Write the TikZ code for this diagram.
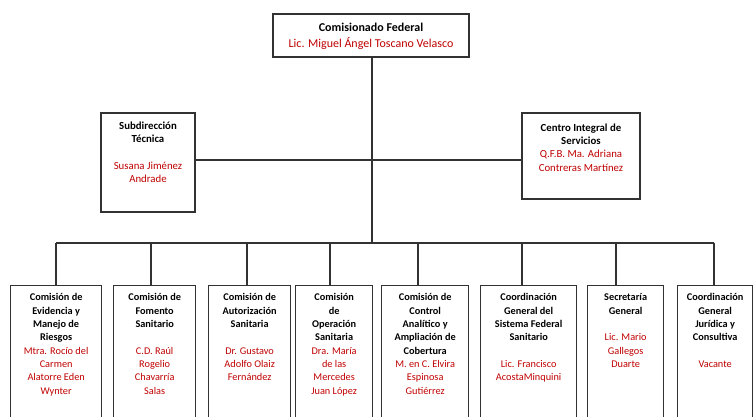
\documentclass[tikz,border=0pt]{standalone}
\usepackage{fontspec}
\setmainfont{Carlito}
\definecolor{namered}{RGB}{192,0,0}
\definecolor{linegray}{RGB}{50,50,50}
\tikzset{
  orgbox/.style={draw=linegray, line width=1.3pt, fill=white, inner sep=0pt},
  boxtext/.style={align=center, inner sep=0pt, anchor=north, font=\fontsize{10.3}{13.3}\selectfont},
  midtext/.style={boxtext, font=\fontsize{10.8}{13.3}\selectfont},
  toptext/.style={boxtext, font=\fontsize{12}{16}\selectfont},
  link/.style={draw=linegray, line width=1.05pt},
}
\newcommand{\nm}[1]{\textcolor{namered}{#1}}
\begin{document}
\begin{tikzpicture}[x=1pt,y=-1pt]
\useasboundingbox (0,0) rectangle (754,416);
\clip (0,0) rectangle (754,416);
% top
\node[orgbox, minimum width=196pt, minimum height=43pt] (top) at (371,35.5) {};
\node[toptext] (topT) at (371,22.5) {\textbf{Comisionado Federal}\\\nm{Lic. Miguel Ángel Toscano Velasco}};
% second level
\node[orgbox, minimum width=94pt, minimum height=99pt] (sub) at (148,162.5) {};
\node[midtext] (subT) at (148,121.5) {\textbf{Subdirección}\\\textbf{Técnica}\\[13.3pt]\nm{Susana Jiménez}\\\nm{Andrade}};
\node[orgbox, minimum width=118pt, minimum height=86pt] (cis) at (581,156) {};
\node[midtext] (cisT) at (581,123.5) {\textbf{Centro Integral de}\\\textbf{Servicios}\\\nm{Q.F.B. Ma. Adriana}\\\nm{Contreras Martínez}};
% junctions
\coordinate (bus) at (372,243);
\coordinate (mid) at (372,160);
\draw[link] (top.south -| bus) -- (bus);
\draw[link] (sub.east |- mid) -- (mid) -- (cis.west |- mid);
% bottom boxes
\foreach \n/\l/\r in {b1/10/101, b2/113/195, b3/208/290, b4/295/372, b5/381/468, b6/480/576, b7/587/663, b8/677/752}{
  \pgfmathsetmacro{\w}{\r-\l}
  \node[orgbox, minimum width=\w pt, minimum height=160pt, anchor=north west] (\n) at (\l,285) {};
}
\node[boxtext] (t1) at (b1.north |- 0,293.5) {\textbf{Comisión de}\\\textbf{Evidencia y}\\\textbf{Manejo de}\\\textbf{Riesgos}\\\nm{Mtra. Rocío del}\\\nm{Carmen}\\\nm{Alatorre Eden}\\\nm{Wynter}};
\node[boxtext] (t2) at (b2.north |- 0,293.5) {\textbf{Comisión de}\\\textbf{Fomento}\\\textbf{Sanitario}\\[13.3pt]\nm{C.D. Raúl}\\\nm{Rogelio}\\\nm{Chavarría}\\\nm{Salas}};
\node[boxtext] (t3) at (b3.north |- 0,293.5) {\textbf{Comisión de}\\\textbf{Autorización}\\\textbf{Sanitaria}\\[13.3pt]\nm{Dr. Gustavo}\\\nm{Adolfo Olaiz}\\\nm{Fernández}};
\node[boxtext] (t4) at (b4.north |- 0,293.5) {\textbf{Comisión}\\\textbf{de}\\\textbf{Operación}\\\textbf{Sanitaria}\\\nm{Dra. María}\\\nm{de las}\\\nm{Mercedes}\\\nm{Juan López}};
\node[boxtext] (t5) at (b5.north |- 0,293.5) {\textbf{Comisión de}\\\textbf{Control}\\\textbf{Analítico y}\\\textbf{Ampliación de}\\\textbf{Cobertura}\\\nm{M. en C. Elvira}\\\nm{Espinosa}\\\nm{Gutiérrez}};
\node[boxtext] (t6) at (b6.north |- 0,293.5) {\textbf{Coordinación}\\\textbf{General del}\\\textbf{Sistema Federal}\\\textbf{Sanitario}\\[13.3pt]\nm{Lic. Francisco}\\\nm{AcostaMinquini}};
\node[boxtext] (t7) at (b7.north |- 0,293.5) {\textbf{Secretaría}\\\textbf{General}\\[13.3pt]\nm{Lic. Mario}\\\nm{Gallegos}\\\nm{Duarte}};
\node[boxtext] (t8) at (b8.north |- 0,293.5) {\textbf{Coordinación}\\\textbf{General}\\\textbf{Jurídica y}\\\textbf{Consultiva}\\[13.3pt]\nm{Vacante}};
% branch connectors
\foreach \n/\x in {b1/56, b2/151, b3/247, b4/330, b5/418, b6/522, b7/616, b8/714}{
  \coordinate (j\n) at (\x,243);
  \draw[link] (j\n) -- (j\n |- \n.north);
}
\draw[link] (jb1) -- (jb8);
\end{tikzpicture}
\end{document}
